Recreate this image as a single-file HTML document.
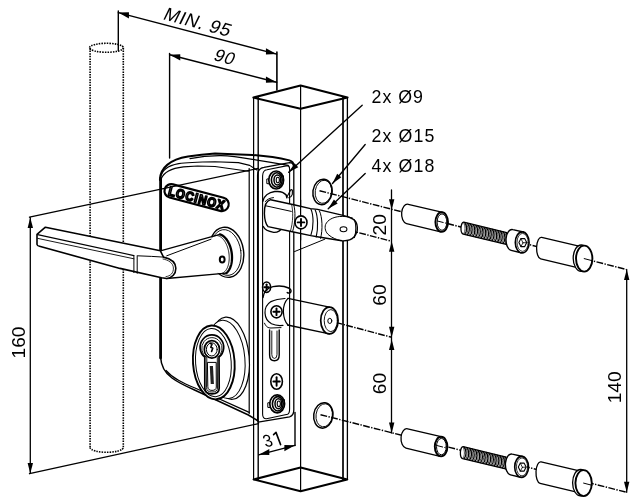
<!DOCTYPE html>
<html><head><meta charset="utf-8"><style>
html,body{margin:0;padding:0;background:#fff;width:634px;height:500px;overflow:hidden}
svg{display:block;filter:grayscale(1)}
text{font-family:"Liberation Sans",sans-serif;fill:#000;stroke:none}
</style></head><body>
<svg width="634" height="500" viewBox="0 0 634 500" stroke="#000" fill="none" stroke-linecap="round" stroke-linejoin="round">
<rect x="0" y="0" width="634" height="500" fill="#fff" stroke="none"/>
<line x1="90.10" y1="48.00" x2="90.10" y2="447.50" stroke-width="1.6" stroke-dasharray="1.5 1.1" stroke-linecap="butt"/>
<line x1="123.30" y1="48.00" x2="123.30" y2="447.50" stroke-width="1.6" stroke-dasharray="1.5 1.1" stroke-linecap="butt"/>
<ellipse cx="106.5" cy="47.8" rx="16.9" ry="4.5" stroke-width="1.6" fill="none" stroke-dasharray="1.5 1.1" stroke-linecap="butt"/>
<path d="M90.1,447.5 A16.6,4.8 0 0 0 123.3,447.5" stroke-width="1.6" fill="none" stroke-dasharray="1.5 1.1" stroke-linecap="butt"/>
<line x1="118.30" y1="11.00" x2="118.30" y2="50.50" stroke-width="1.4" />
<line x1="276.90" y1="52.00" x2="276.90" y2="90.00" stroke-width="1.6" />
<line x1="118.30" y1="12.60" x2="276.60" y2="54.10" stroke-width="1.4" />
<path d="M118.30,12.60 L128.94,12.29 L128.94,18.49 Z" fill="#000" stroke="none"/>
<path d="M276.60,54.10 L265.96,48.21 L265.96,54.41 Z" fill="#000" stroke="none"/>
<line x1="169.60" y1="53.50" x2="169.60" y2="158.00" stroke-width="1.4" />
<line x1="169.60" y1="54.70" x2="276.60" y2="82.30" stroke-width="1.4" />
<path d="M169.60,54.70 L180.25,54.35 L180.25,60.55 Z" fill="#000" stroke="none"/>
<path d="M276.60,82.30 L265.95,76.45 L265.95,82.65 Z" fill="#000" stroke="none"/>
<text x="0" y="0" font-size="18.5" text-anchor="start" transform="translate(162.0,19.0) rotate(15) skewX(-11)" letter-spacing="0.6">MIN. 95</text>
<text x="0" y="0" font-size="17.5" text-anchor="start" transform="translate(212.6,59.8) rotate(15) skewX(-11)" letter-spacing="0.6">90</text>
<path d="M253.4,97.6 L300.6,85.6 L347.5,97.6 L300.6,108.8 Z" stroke-width="2.1" fill="none" />
<line x1="300.60" y1="85.60" x2="300.60" y2="108.80" stroke-width="1.2" />
<line x1="253.60" y1="97.60" x2="253.60" y2="479.40" stroke-width="1.2" />
<line x1="258.20" y1="97.60" x2="258.20" y2="479.40" stroke-width="1.4" />
<line x1="343.00" y1="97.60" x2="343.00" y2="479.40" stroke-width="1.7" />
<line x1="347.40" y1="97.60" x2="347.40" y2="479.40" stroke-width="1.3" />
<line x1="300.60" y1="108.80" x2="300.60" y2="491.20" stroke-width="1.2" />
<path d="M253.6,479.4 L300.6,467.4 L347.2,479.4 L300.6,491.2 Z" stroke-width="2.1" fill="none" />
<ellipse cx="322.5" cy="191.9" rx="9.6" ry="12.8" stroke-width="1.5" fill="none" transform="rotate(8 322.5 191.9)" />
<ellipse cx="323.4" cy="191.8" rx="8.2" ry="11.6" stroke-width="0.9" fill="none" transform="rotate(8 323.4 191.8)" />
<ellipse cx="323.3" cy="415.4" rx="9.6" ry="12.8" stroke-width="1.5" fill="none" transform="rotate(8 323.3 415.4)" />
<ellipse cx="324.2" cy="415.3" rx="8.2" ry="11.6" stroke-width="0.9" fill="none" transform="rotate(8 324.2 415.3)" />
<line x1="319.50" y1="190.70" x2="626.70" y2="269.60" stroke-width="1.45" stroke-dasharray="6.8 1.4 1.4 1.4" stroke-linecap="butt"/>
<line x1="338.00" y1="227.30" x2="391.70" y2="241.30" stroke-width="1.45" stroke-dasharray="6.8 1.4 1.4 1.4" stroke-linecap="butt"/>
<line x1="325.00" y1="319.60" x2="391.70" y2="337.30" stroke-width="1.45" stroke-dasharray="6.8 1.4 1.4 1.4" stroke-linecap="butt"/>
<line x1="320.50" y1="414.70" x2="626.70" y2="492.30" stroke-width="1.45" stroke-dasharray="6.8 1.4 1.4 1.4" stroke-linecap="butt"/>
<line x1="391.50" y1="190.00" x2="391.50" y2="433.00" stroke-width="1.3" />
<path d="M391.70,209.80 L389.00,199.30 L394.40,199.30 Z" fill="#000" stroke="none"/>
<path d="M391.70,241.30 L394.40,251.80 L389.00,251.80 Z" fill="#000" stroke="none"/>
<path d="M391.70,337.30 L389.00,326.80 L394.40,326.80 Z" fill="#000" stroke="none"/>
<path d="M391.70,339.50 L394.40,350.00 L389.00,350.00 Z" fill="#000" stroke="none"/>
<path d="M391.70,433.00 L389.00,422.50 L394.40,422.50 Z" fill="#000" stroke="none"/>
<text x="0" y="0" font-size="19.2" text-anchor="middle" transform="translate(386.0,224.8) rotate(-90)" >20</text>
<text x="0" y="0" font-size="19.2" text-anchor="middle" transform="translate(386.0,295.0) rotate(-90)" >60</text>
<text x="0" y="0" font-size="19.2" text-anchor="middle" transform="translate(386.0,383.5) rotate(-90)" >60</text>
<line x1="626.70" y1="269.60" x2="626.70" y2="492.30" stroke-width="1.3" />
<path d="M626.70,269.60 L629.40,280.10 L624.00,280.10 Z" fill="#000" stroke="none"/>
<path d="M626.70,492.30 L624.00,481.80 L629.40,481.80 Z" fill="#000" stroke="none"/>
<text x="0" y="0" font-size="19.2" text-anchor="middle" transform="translate(621.2,387.3) rotate(-90)" >140</text>
<line x1="30.30" y1="217.60" x2="30.30" y2="473.40" stroke-width="1.3" />
<path d="M30.30,217.60 L33.00,228.10 L27.60,228.10 Z" fill="#000" stroke="none"/>
<path d="M30.30,473.40 L27.60,462.90 L33.00,462.90 Z" fill="#000" stroke="none"/>
<line x1="29.50" y1="217.20" x2="258.00" y2="168.50" stroke-width="1.35" />
<line x1="29.50" y1="473.70" x2="258.50" y2="423.60" stroke-width="1.35" />
<text x="0" y="0" font-size="19.2" text-anchor="middle" transform="translate(24.6,342.5) rotate(-90)" >160</text>
<line x1="295.00" y1="412.50" x2="295.00" y2="445.50" stroke-width="1.4" />
<line x1="258.70" y1="454.80" x2="295.00" y2="445.30" stroke-width="1.35" />
<path d="M258.70,454.80 L269.34,448.92 L269.34,455.12 Z" fill="#000" stroke="none"/>
<path d="M295.00,445.30 L284.36,444.98 L284.36,451.18 Z" fill="#000" stroke="none"/>
<text x="0" y="0" font-size="17.5" text-anchor="start" transform="translate(265.4,447.2) rotate(-10) skewX(10) scale(0.9,1)" >3</text>
<path d="M273.6,434.6 L276.0,432.4 L280.6,444.6" stroke-width="1.6" fill="none" />
<text x="371.5" y="102.8" font-size="17.8" text-anchor="start" letter-spacing="1.0">2x Ø9</text>
<text x="371.5" y="142" font-size="17.8" text-anchor="start" letter-spacing="1.1">2x Ø15</text>
<text x="371.5" y="171.5" font-size="17.8" text-anchor="start" letter-spacing="1.1">4x Ø18</text>
<line x1="362.20" y1="105.30" x2="288.70" y2="172.20" stroke-width="1.35" />
<path d="M288.70,172.20 L294.65,163.14 L298.28,167.13 Z" fill="#000" stroke="none"/>
<line x1="365.20" y1="144.50" x2="332.50" y2="183.50" stroke-width="1.35" />
<path d="M332.50,183.50 L337.18,173.72 L341.32,177.19 Z" fill="#000" stroke="none"/>
<line x1="365.20" y1="173.50" x2="328.20" y2="208.80" stroke-width="1.35" />
<path d="M328.20,208.80 L333.93,199.60 L337.66,203.51 Z" fill="#000" stroke="none"/>
<line x1="160.60" y1="178.00" x2="160.60" y2="358.00" stroke-width="2.8" />
<path d="M159.9,180 C160,168 170,159.5 188,156.6 C196,155.3 205,154.2 215,153.6 L252.6,155.0 C266,156 280,158.2 289.5,160.4 Q293.6,161.6 293.8,166" stroke-width="2.0" fill="none" />
<path d="M190,158.6 C200,156.6 212,155.6 221,155.7 C232,156 242,157.6 252.4,159.3 L270.9,162.4 L288.3,165.4" stroke-width="1.2" fill="none" />
<path d="M160.6,178 C161.5,170 168,165.5 178.7,163.6 C186,162.4 196,162 215,161.7 L238.4,162.6 L249.7,165.4 L256.8,170" stroke-width="1.1" fill="none" />
<path d="M161.2,179 C163.5,172.5 172,168.2 183.4,166.9 L197.6,166 L215,166.5 L248.6,171.2" stroke-width="1.1" fill="none" />
<line x1="249.20" y1="168.50" x2="249.20" y2="413.50" stroke-width="1.2" />
<path d="M160.6,357 C161,366 165,373 172,378 C178,382.5 186,386.2 194,389.8 L248.4,415 L257.4,420.5" stroke-width="1.5" fill="none" />
<path d="M166,370.5 C169,374 173.5,377.5 178.5,380.3 C184,383.5 189,385.6 195,388 L249.2,412.4" stroke-width="1.2" fill="none" />
<path d="M257.6,421 L257.6,175 Q258,168 264,167.4 L289.5,162.6 Q293.8,162.6 293.8,167 L293.8,410 Q293.8,415.5 289.6,416.8 L258.2,422.2" stroke-width="1.3" fill="none" />
<path d="M262.6,414 L262.6,176 Q262.8,170.2 267,169.8 L287.4,165.6 Q289.6,165.8 289.6,169 L289.6,409 Q289.6,413.2 287.6,414.3 L266.5,418.7 Q262.6,419 262.6,414 Z" stroke-width="1.1" fill="none" />
<g transform="translate(196.6,197.6) rotate(14.8)"><rect x="-33" y="-6.8" width="66" height="13.6" rx="6.8" ry="6.8" fill="none" stroke-width="2.2"/><text x="0.5" y="4.9" font-size="12.8" font-weight="bold" text-anchor="middle" style="fill:#fff;stroke:#000;stroke-width:1.7px" letter-spacing="1.0" transform="scale(0.9,1)">LOCINOX</text></g>
<ellipse cx="226.4" cy="252.3" rx="17.2" ry="25.2" stroke-width="1.4" fill="#fff" transform="rotate(-8 226.4 252.3)" />
<ellipse cx="225.9" cy="252.5" rx="15.0" ry="23.0" stroke-width="0.9" fill="none" transform="rotate(-8 225.9 252.5)" />
<path d="M160.4,250.8 L219.95,234.37 L220.15,234.43 L220.34,234.50 L220.54,234.57 L220.73,234.65 L220.93,234.73 L221.12,234.81 L221.32,234.90 L221.51,235.00 L221.71,235.10 L221.90,235.20 L222.09,235.31 L222.28,235.43 L222.48,235.55 L222.67,235.67 L222.86,235.80 L223.04,235.93 L223.23,236.07 L223.42,236.21 L223.61,236.36 L223.79,236.51 L223.98,236.67 L224.16,236.83 L224.34,236.99 L224.52,237.16 L224.70,237.33 L224.88,237.51 L225.05,237.69 L225.23,237.88 L225.40,238.07 L225.58,238.26 L225.75,238.46 L225.92,238.66 L226.09,238.86 L226.25,239.07 L226.42,239.29 L226.58,239.50 L226.74,239.73 L226.90,239.95 L227.06,240.18 L227.21,240.41 L227.37,240.64 L227.52,240.88 L227.67,241.12 L227.82,241.37 L227.96,241.62 L228.11,241.87 L228.25,242.12 L228.39,242.38 L228.52,242.64 L228.66,242.91 L228.79,243.17 L228.92,243.44 L229.05,243.71 L229.18,243.99 L229.30,244.27 L229.42,244.55 L229.54,244.83 L229.66,245.11 L229.77,245.40 L229.88,245.69 L229.99,245.98 L230.09,246.27 L230.20,246.57 L230.30,246.87 L230.40,247.16 L230.49,247.47 L230.58,247.77 L230.67,248.07 L230.76,248.38 L230.85,248.69 L230.93,249.00 L231.01,249.31 L231.08,249.62 L231.15,249.93 L231.22,250.24 L231.29,250.56 L231.36,250.88 L231.42,251.19 L231.48,251.51 L231.53,251.83 L231.58,252.15 L231.63,252.47 L231.68,252.79 L231.72,253.11 L231.76,253.43 L231.80,253.75 L231.84,254.07 L231.87,254.39 L231.90,254.72 L231.92,255.04 L231.94,255.36 L231.96,255.68 L231.98,256.00 L231.99,256.32 L232.00,256.64 L232.01,256.96 L232.01,257.28 L232.01,257.60 L232.01,257.92 L232.01,258.23 L232.00,258.55 L231.98,258.86 L231.97,259.18 L231.95,259.49 L231.93,259.80 L231.91,260.11 L231.88,260.42 L231.85,260.73 L231.82,261.03 L231.78,261.33 L231.74,261.64 L231.70,261.94 L231.65,262.24 L231.61,262.53 L231.55,262.83 L231.50,263.12 L231.44,263.41 L231.38,263.70 L231.32,263.99 L231.25,264.27 L231.19,264.55 L231.11,264.83 L231.04,265.11 L230.96,265.38 L230.88,265.65 L230.80,265.92 L230.71,266.18 L230.62,266.45 L230.53,266.71 L230.44,266.96 L230.34,267.22 L230.24,267.47 L230.14,267.71 L230.04,267.96 L229.93,268.20 L229.82,268.44 L229.71,268.67 L229.59,268.90 L229.47,269.13 L229.35,269.35 L229.23,269.57 L229.11,269.79 L228.98,270.00 L228.85,270.21 L228.72,270.41 L228.58,270.61 L228.45,270.81 L228.31,271.00 L228.17,271.19 L228.03,271.37 L227.88,271.55 L227.73,271.73 L227.58,271.90 L227.43,272.07 L227.28,272.23 L227.13,272.39 L226.97,272.54 L226.81,272.69 L226.65,272.84 L226.49,272.98 L226.32,273.11 L166.7,278.5 Z" fill="#fff" stroke="none"/>
<path d="M219.95,234.37 L220.15,234.43 L220.34,234.50 L220.54,234.57 L220.73,234.65 L220.93,234.73 L221.12,234.81 L221.32,234.90 L221.51,235.00 L221.71,235.10 L221.90,235.20 L222.09,235.31 L222.28,235.43 L222.48,235.55 L222.67,235.67 L222.86,235.80 L223.04,235.93 L223.23,236.07 L223.42,236.21 L223.61,236.36 L223.79,236.51 L223.98,236.67 L224.16,236.83 L224.34,236.99 L224.52,237.16 L224.70,237.33 L224.88,237.51 L225.05,237.69 L225.23,237.88 L225.40,238.07 L225.58,238.26 L225.75,238.46 L225.92,238.66 L226.09,238.86 L226.25,239.07 L226.42,239.29 L226.58,239.50 L226.74,239.73 L226.90,239.95 L227.06,240.18 L227.21,240.41 L227.37,240.64 L227.52,240.88 L227.67,241.12 L227.82,241.37 L227.96,241.62 L228.11,241.87 L228.25,242.12 L228.39,242.38 L228.52,242.64 L228.66,242.91 L228.79,243.17 L228.92,243.44 L229.05,243.71 L229.18,243.99 L229.30,244.27 L229.42,244.55 L229.54,244.83 L229.66,245.11 L229.77,245.40 L229.88,245.69 L229.99,245.98 L230.09,246.27 L230.20,246.57 L230.30,246.87 L230.40,247.16 L230.49,247.47 L230.58,247.77 L230.67,248.07 L230.76,248.38 L230.85,248.69 L230.93,249.00 L231.01,249.31 L231.08,249.62 L231.15,249.93 L231.22,250.24 L231.29,250.56 L231.36,250.88 L231.42,251.19 L231.48,251.51 L231.53,251.83 L231.58,252.15 L231.63,252.47 L231.68,252.79 L231.72,253.11 L231.76,253.43 L231.80,253.75 L231.84,254.07 L231.87,254.39 L231.90,254.72 L231.92,255.04 L231.94,255.36 L231.96,255.68 L231.98,256.00 L231.99,256.32 L232.00,256.64 L232.01,256.96 L232.01,257.28 L232.01,257.60 L232.01,257.92 L232.01,258.23 L232.00,258.55 L231.98,258.86 L231.97,259.18 L231.95,259.49 L231.93,259.80 L231.91,260.11 L231.88,260.42 L231.85,260.73 L231.82,261.03 L231.78,261.33 L231.74,261.64 L231.70,261.94 L231.65,262.24 L231.61,262.53 L231.55,262.83 L231.50,263.12 L231.44,263.41 L231.38,263.70 L231.32,263.99 L231.25,264.27 L231.19,264.55 L231.11,264.83 L231.04,265.11 L230.96,265.38 L230.88,265.65 L230.80,265.92 L230.71,266.18 L230.62,266.45 L230.53,266.71 L230.44,266.96 L230.34,267.22 L230.24,267.47 L230.14,267.71 L230.04,267.96 L229.93,268.20 L229.82,268.44 L229.71,268.67 L229.59,268.90 L229.47,269.13 L229.35,269.35 L229.23,269.57 L229.11,269.79 L228.98,270.00 L228.85,270.21 L228.72,270.41 L228.58,270.61 L228.45,270.81 L228.31,271.00 L228.17,271.19 L228.03,271.37 L227.88,271.55 L227.73,271.73 L227.58,271.90 L227.43,272.07 L227.28,272.23 L227.13,272.39 L226.97,272.54 L226.81,272.69 L226.65,272.84 L226.49,272.98 L226.32,273.11" stroke-width="2.3" fill="none" />
<path d="M212.02,237.25 L212.46,236.90 L212.90,236.59 L213.36,236.32 L213.83,236.08 L214.31,235.89 L214.79,235.74 L215.29,235.63 L215.79,235.56 L216.29,235.53 L216.80,235.54 L217.31,235.60 L217.83,235.69 L218.35,235.83 L218.86,236.01 L219.37,236.23 L219.89,236.49 L220.39,236.79 L220.90,237.13 L221.39,237.51 L221.88,237.92 L222.36,238.37 L222.84,238.86 L223.30,239.38 L223.75,239.93 L224.19,240.52 L224.62,241.14 L225.03,241.78 L225.42,242.46 L225.81,243.16 L226.17,243.88 L226.52,244.63 L226.85,245.41 L227.16,246.20 L227.45,247.01 L227.72,247.83 L227.97,248.67 L228.20,249.53 L228.40,250.39 L228.59,251.27 L228.75,252.15 L228.89,253.04 L229.00,253.93 L229.09,254.82 L229.16,255.71 L229.20,256.60 L229.22,257.48 L229.22,258.36 L229.19,259.23 L229.14,260.09 L229.06,260.94 L228.96,261.77 L228.83,262.59 L228.69,263.39 L228.52,264.17 L228.32,264.93 L228.11,265.67 L227.87,266.39 L227.62,267.07 L227.34,267.74 L227.04,268.37 L226.72,268.97 L226.38,269.54 L226.03,270.08 L225.66,270.58 L225.27,271.05 L224.87,271.48 L224.45,271.88 L224.02,272.24 L223.57,272.56 L223.12,272.84 L222.65,273.08 L222.18,273.28 L221.69,273.44 L221.20,273.56 L220.70,273.63 L220.19,273.67 L219.69,273.66 L219.17,273.62 L218.66,273.53 L218.14,273.39" stroke-width="0.9" fill="none" />
<path d="M160.4,250.8 L219.95,234.37" stroke-width="1.3" fill="none" />
<path d="M166.7,278.5 L226.32,273.11" stroke-width="1.3" fill="none" />
<path d="M166.7,255.8 L211,239.2" stroke-width="1.0" fill="none" />
<ellipse cx="222.2" cy="259.4" rx="2.4" ry="3.0" stroke-width="2.0" fill="none" />
<path d="M37.0,244.5 L37.0,234.4 L45.4,227.2 L160.4,250.8 L163.5,257.1 C170,258.5 175.5,262 175.8,268 C176,274 172,278 166.7,278.5 L161.6,277.8 L120,268.4 L39.5,246.3 Q37.2,245.8 37.0,244.5 Z" stroke-width="1.6" fill="#fff" />
<path d="M37.6,234.6 L133.9,255.6" stroke-width="1.1" fill="none" />
<path d="M37.8,238.4 L133.9,258.8" stroke-width="0.9" fill="none" />
<path d="M137.7,255.8 L151.5,256.4 L163.5,257.1" stroke-width="1.0" fill="none" />
<line x1="133.90" y1="255.80" x2="133.90" y2="272.60" stroke-width="1.0" />
<line x1="137.20" y1="255.80" x2="137.20" y2="273.30" stroke-width="1.0" />
<path d="M163,259 C168.5,260 173.2,263 173.4,268 C173.6,273 170.5,276.2 166,276.6" stroke-width="0.8" fill="none" />
<ellipse cx="229.2" cy="358.2" rx="20.0" ry="41.2" stroke-width="1.2" fill="#fff" transform="rotate(-5 229.2 358.2)" />
<ellipse cx="225.5" cy="359.4" rx="19.4" ry="39.2" stroke-width="1.0" fill="#fff" transform="rotate(-5 225.5 359.4)" />
<ellipse cx="213.8" cy="362.4" rx="20.8" ry="37.0" stroke-width="1.9" fill="#fff" transform="rotate(-4 213.8 362.4)" />
<ellipse cx="213.4" cy="362.6" rx="17.8" ry="34.2" stroke-width="1.0" fill="none" transform="rotate(-4 213.4 362.6)" />
<path d="M204.8,357.2 A11.8,12.4 0 1 1 219.0,357.2 L219.2,388 Q219.2,393.8 212.0,393.8 Q204.8,393.8 204.8,388 Z" stroke-width="1.7" fill="none" />
<path d="M206.5,357.6 A10.2,10.8 0 1 1 217.3,357.6 L217.5,388 Q217.5,392.0 212.0,392.0 Q206.5,392.0 206.5,388 Z" stroke-width="0.9" fill="none" />
<ellipse cx="211.9" cy="349.4" rx="7.6" ry="8.8" stroke-width="1.7" fill="none" />
<ellipse cx="211.8" cy="349.4" rx="5.4" ry="6.6" stroke-width="1.0" fill="none" />
<path d="M207.8,362.4 L216.2,362.4 L216.3,387 Q216.3,390.4 212.0,390.4 Q207.8,390.4 207.8,387 Z" stroke-width="1.0" fill="none" />
<rect x="210.2" y="366" width="3.2" height="18" fill="#222" stroke="none" transform="rotate(-3 211.7 374)"/>
<path d="M210.0,343.2 l2,1 l-1.2,3 l2,1 l-1.2,3.2" fill="none" stroke-width="1.6"/>
<ellipse cx="276.2" cy="180.0" rx="7.4" ry="9.0" stroke-width="1.7" fill="#fff" />
<ellipse cx="276.8" cy="180.0" rx="5.4" ry="7.2" stroke-width="1.6" fill="none" />
<ellipse cx="277.4" cy="180.0" rx="3.4" ry="5.0" stroke-width="1.5" fill="none" />
<ellipse cx="277.8" cy="180.0" rx="1.6" ry="2.8" stroke-width="1.1" fill="none" />
<path d="M268.8,178.8 L266.8,179.0 L266.8,183.6 L269.0,183.8" stroke-width="1.0" fill="none" />
<path d="M281.0,175.8 L283.4,175.8 L283.4,180.4" stroke-width="1.0" fill="none" />
<ellipse cx="277.2" cy="403.8" rx="7.4" ry="9.0" stroke-width="1.7" fill="#fff" />
<ellipse cx="277.8" cy="403.8" rx="5.4" ry="7.2" stroke-width="1.6" fill="none" />
<ellipse cx="278.4" cy="403.8" rx="3.4" ry="5.0" stroke-width="1.5" fill="none" />
<ellipse cx="278.8" cy="403.8" rx="1.6" ry="2.8" stroke-width="1.1" fill="none" />
<path d="M269.8,402.6 L267.8,402.8 L267.8,407.40000000000003 L270.0,407.6" stroke-width="1.0" fill="none" />
<path d="M282.0,399.6 L284.4,399.6 L284.4,404.2" stroke-width="1.0" fill="none" />
<ellipse cx="276.6" cy="381.5" rx="5.8" ry="7.8" stroke-width="1.6" fill="#fff" />
<line x1="273.41" y1="381.50" x2="279.79" y2="381.50" stroke-width="1.9" />
<line x1="276.60" y1="377.21" x2="276.60" y2="385.79" stroke-width="1.9" />
<path d="M262.7,201.2 C264,196.5 268.5,192.4 274.8,191.6 C279,191.0 283.5,191.8 286.2,195.0 L286.9,197.8" stroke-width="1.5" fill="none" />
<path d="M265.2,201.6 C267.5,199.0 270,198.0 273.5,197.6" stroke-width="1.0" fill="none" />
<path d="M287.0,196.8 L290.4,190.4 Q291.4,188.8 292.4,190.4 L292.3,194.4 Q291.6,197.0 288.8,197.8" stroke-width="1.1" fill="none" />
<path d="M263.3,226.6 C264.5,229.5 267,231.4 273.7,232.4 C277,232.6 280.3,231.2 282.6,227.4" stroke-width="1.4" fill="none" />
<path d="M270.6,199.7 C266,201 264.2,207 264.4,213.6 C264.6,220 266,224.5 268,226.6 L292.3,231.8 L310.8,235.6 L318.7,237.0 L341.9,240.8 C346,241 351,240.5 354,237 C356.5,234 357.6,230 357.3,227 C357,223.5 356,221 353,219.2 C350,217.5 346.5,216.2 343,215.4 L317.6,209.4 L310.5,208.6 L294.9,205 Z" stroke-width="1.4" fill="#fff" />
<path d="M293.8,204.9 C295.5,211 295.6,222 292.6,231.6" stroke-width="1.0" fill="none" />
<path d="M266.2,205.9 L291.3,211.4" stroke-width="1.0" fill="none" />
<path d="M291.6,204.5 C293.2,211 293.3,222 290.4,231.2" stroke-width="0.8" fill="none" />
<line x1="300.60" y1="200.00" x2="300.60" y2="240.00" stroke-width="1.2" />
<ellipse cx="301.0" cy="222.4" rx="6.0" ry="6.48" stroke-width="1.6" fill="#fff" />
<line x1="297.70" y1="222.40" x2="304.30" y2="222.40" stroke-width="1.9" />
<line x1="301.00" y1="218.84" x2="301.00" y2="225.96" stroke-width="1.9" />
<path d="M311.0,209.3 C313.5,215 314,227 310.8,235.5" stroke-width="1.1" fill="none" />
<path d="M315.2,210.0 C318,216 318.3,229 316.2,237.0" stroke-width="1.1" fill="none" />
<path d="M319.4,210.8 C322.5,217 322.8,230 320.6,238.4" stroke-width="1.0" fill="none" />
<path d="M352.5,218.0 C348,216.6 344,216.2 339.7,216.5 C333,217 327.5,220 325.6,224.5 C324.4,228 325.5,232.5 329,235.2 C332.5,238 336.5,239.6 340.5,240.6" stroke-width="1.0" fill="none" />
<path d="M354.4,219.8 C356.2,224 356.4,232 354.4,237.6" stroke-width="1.1" fill="none" />
<ellipse cx="343.5" cy="229.2" rx="3.4" ry="2.5" stroke-width="1.1" fill="none" />
<line x1="294.50" y1="251.60" x2="324.80" y2="239.20" stroke-width="1.0" />
<ellipse cx="266.6" cy="287.2" rx="4.0" ry="5.2" stroke-width="1.6" fill="#fff" />
<line x1="264.40" y1="287.20" x2="268.80" y2="287.20" stroke-width="1.9" />
<line x1="266.60" y1="284.34" x2="266.60" y2="290.06" stroke-width="1.9" />
<path d="M263.0,297.5 C264,291 268,287.6 273,286.6 C278,285.6 284.5,286.0 288.6,288.0 C290.6,289.0 291.6,290.6 290.8,292.0 C290,293.2 288.2,293.4 287.2,292.4" stroke-width="1.4" fill="none" />
<path d="M285,298.5 C280,298.8 275.5,299.5 271,301.6 C266.5,304.5 264.8,309 265,313 C265.2,317.5 267.5,321.5 271.5,323.8 C275,325.5 279,325.8 283,325.4" stroke-width="1.2" fill="none" />
<ellipse cx="276.5" cy="311.8" rx="5.6" ry="6.048" stroke-width="1.6" fill="#fff" />
<line x1="273.42" y1="311.80" x2="279.58" y2="311.80" stroke-width="1.9" />
<line x1="276.50" y1="308.47" x2="276.50" y2="315.13" stroke-width="1.9" />
<path d="M288,298.4 C284.4,302 283.2,307 283.4,312 C283.6,317 285,322 288,325" stroke-width="1.2" fill="none" />
<path d="M288,298.4 L329.4,307.1" stroke-width="1.3" fill="none" />
<path d="M287.5,325 L329.4,333.9" stroke-width="1.3" fill="none" />
<ellipse cx="329.4" cy="320.5" rx="8.7" ry="13.4" stroke-width="1.7" fill="#fff" />
<ellipse cx="330.8" cy="320.6" rx="6.6" ry="11.0" stroke-width="0.9" fill="none" />
<ellipse cx="329.8" cy="320.9" rx="2.0" ry="2.6" stroke-width="1.0" fill="none" />
<path d="M264.5,323.2 C266,326.8 268,328 271,328 L281,327.6" stroke-width="1.0" fill="none" />
<path d="M269.6,330 L269.6,355 Q269.6,360.8 274.4,360.8 Q279.2,360.8 279.2,355 L279.2,330" stroke-width="1.4" fill="none" />
<path d="M271.8,331 L271.8,354.5 Q271.8,358.4 274.4,358.4 Q277,358.4 277,354.5 L277,331" stroke-width="0.9" fill="none" />
<g><path d="M442.73,212.43 L408.27,204.31 A5.8,9.8 0 0 0 406.53,223.69 L440.67,231.77 A6.3,9.8 0 0 0 442.73,212.43 Z" fill="#fff" stroke="none"/><path d="M442.73,212.43 L408.27,204.31 A5.8,9.8 0 0 0 406.53,223.69 L440.67,231.77" stroke-width="1.3" fill="none" /><ellipse cx="441.7" cy="222.1" rx="6.3" ry="9.8" stroke-width="1.9" fill="none" /><ellipse cx="442.0" cy="222.1" rx="4.9" ry="8.2" stroke-width="1.0" fill="none" /><line x1="437.00" y1="220.90" x2="446.80" y2="223.40" stroke-width="1.0" stroke-dasharray="6.8 1.4 1.4 1.4" stroke-linecap="butt"/><path d="M506.77,232.53 L463.79,222.24 A2.6,6.0 0 0 0 463.21,234.16 L506.23,244.47 A2.5,6.0 0 0 0 506.77,232.53 Z" fill="#fff" stroke="none"/><path d="M506.77,232.53 L463.79,222.24 A2.6,6.0 0 0 0 463.21,234.16 L506.23,244.47" stroke-width="1.3" fill="none" /><path d="M464.80,222.72 C467.20,225.42 467.20,231.42 464.80,234.12" stroke-width="1.25" fill="none" /><path d="M463.70,223.02 C465.50,225.42 465.50,231.42 463.70,233.82" stroke-width="0.7" fill="none" /><path d="M467.54,223.37 C469.94,226.07 469.94,232.07 467.54,234.77" stroke-width="1.25" fill="none" /><path d="M466.44,223.67 C468.24,226.07 468.24,232.07 466.44,234.47" stroke-width="0.7" fill="none" /><path d="M470.28,224.03 C472.68,226.73 472.68,232.73 470.28,235.43" stroke-width="1.25" fill="none" /><path d="M469.18,224.33 C470.98,226.73 470.98,232.73 469.18,235.13" stroke-width="0.7" fill="none" /><path d="M473.02,224.69 C475.42,227.39 475.42,233.39 473.02,236.09" stroke-width="1.25" fill="none" /><path d="M471.92,224.99 C473.72,227.39 473.72,233.39 471.92,235.79" stroke-width="0.7" fill="none" /><path d="M475.76,225.35 C478.16,228.05 478.16,234.05 475.76,236.75" stroke-width="1.25" fill="none" /><path d="M474.66,225.65 C476.46,228.05 476.46,234.05 474.66,236.45" stroke-width="0.7" fill="none" /><path d="M478.50,226.00 C480.90,228.70 480.90,234.70 478.50,237.40" stroke-width="1.25" fill="none" /><path d="M477.40,226.30 C479.20,228.70 479.20,234.70 477.40,237.10" stroke-width="0.7" fill="none" /><path d="M481.24,226.66 C483.64,229.36 483.64,235.36 481.24,238.06" stroke-width="1.25" fill="none" /><path d="M480.14,226.96 C481.94,229.36 481.94,235.36 480.14,237.76" stroke-width="0.7" fill="none" /><path d="M483.98,227.32 C486.38,230.02 486.38,236.02 483.98,238.72" stroke-width="1.25" fill="none" /><path d="M482.88,227.62 C484.68,230.02 484.68,236.02 482.88,238.42" stroke-width="0.7" fill="none" /><path d="M486.72,227.98 C489.12,230.68 489.12,236.68 486.72,239.38" stroke-width="1.25" fill="none" /><path d="M485.62,228.28 C487.42,230.68 487.42,236.68 485.62,239.08" stroke-width="0.7" fill="none" /><path d="M489.46,228.63 C491.86,231.33 491.86,237.33 489.46,240.03" stroke-width="1.25" fill="none" /><path d="M488.36,228.93 C490.16,231.33 490.16,237.33 488.36,239.73" stroke-width="0.7" fill="none" /><path d="M492.20,229.29 C494.60,231.99 494.60,237.99 492.20,240.69" stroke-width="1.25" fill="none" /><path d="M491.10,229.59 C492.90,231.99 492.90,237.99 491.10,240.39" stroke-width="0.7" fill="none" /><path d="M494.94,229.95 C497.34,232.65 497.34,238.65 494.94,241.35" stroke-width="1.25" fill="none" /><path d="M493.84,230.25 C495.64,232.65 495.64,238.65 493.84,241.05" stroke-width="0.7" fill="none" /><path d="M497.68,230.61 C500.08,233.31 500.08,239.31 497.68,242.01" stroke-width="1.25" fill="none" /><path d="M496.58,230.91 C498.38,233.31 498.38,239.31 496.58,241.71" stroke-width="0.7" fill="none" /><path d="M500.42,231.26 C502.82,233.96 502.82,239.96 500.42,242.66" stroke-width="1.25" fill="none" /><path d="M499.32,231.56 C501.12,233.96 501.12,239.96 499.32,242.36" stroke-width="0.7" fill="none" /><path d="M503.16,231.92 C505.56,234.62 505.56,240.62 503.16,243.32" stroke-width="1.25" fill="none" /><path d="M502.06,232.22 C503.86,234.62 503.86,240.62 502.06,243.02" stroke-width="0.7" fill="none" /><path d="M505.90,232.58 C508.30,235.28 508.30,241.28 505.90,243.98" stroke-width="1.25" fill="none" /><path d="M504.80,232.88 C506.60,235.28 506.60,241.28 504.80,243.68" stroke-width="0.7" fill="none" /><path d="M523.35,232.05 L512.87,229.61 A6.0,10.5 0 0 0 511.13,250.39 L521.05,252.75 A6.9,10.5 0 0 0 523.35,232.05 Z" fill="#fff" stroke="none"/><path d="M523.35,232.05 L512.87,229.61 A6.0,10.5 0 0 0 511.13,250.39 L521.05,252.75" stroke-width="1.4" fill="none" /><ellipse cx="522.2" cy="242.4" rx="6.9" ry="10.5" stroke-width="1.6" fill="#fff" /><ellipse cx="522.6" cy="242.4" rx="5.6" ry="9.0" stroke-width="0.8" fill="none" /><polygon points="526.70,242.60 524.75,246.58 520.85,246.58 518.90,242.60 520.85,238.62 524.75,238.62" fill="none" stroke-width="1.1"/><line x1="520.90" y1="238.60" x2="523.00" y2="242.80" stroke-width="0.8" /><line x1="523.00" y1="242.80" x2="526.70" y2="242.60" stroke-width="0.8" /><line x1="523.00" y1="242.80" x2="520.90" y2="246.60" stroke-width="0.8" /><path d="M582.12,246.97 L541.70,237.46 A4.6,10.8 0 0 0 540.70,258.94 L579.48,268.23 A7.5,10.8 0 0 0 582.12,246.97 Z" fill="#fff" stroke="none"/><path d="M582.12,246.97 L541.70,237.46 A4.6,10.8 0 0 0 540.70,258.94 L579.48,268.23" stroke-width="1.3" fill="none" /><ellipse cx="581.2" cy="258.2" rx="8.0" ry="13.2" stroke-width="1.3" fill="#fff" /><ellipse cx="584.2" cy="258.6" rx="8.2" ry="13.0" stroke-width="1.9" fill="#fff" /><line x1="584.20" y1="258.60" x2="592.60" y2="260.80" stroke-width="1.0" /></g>
<g transform="translate(-0.6,224.5)"><path d="M442.73,212.43 L408.27,204.31 A5.8,9.8 0 0 0 406.53,223.69 L440.67,231.77 A6.3,9.8 0 0 0 442.73,212.43 Z" fill="#fff" stroke="none"/><path d="M442.73,212.43 L408.27,204.31 A5.8,9.8 0 0 0 406.53,223.69 L440.67,231.77" stroke-width="1.3" fill="none" /><ellipse cx="441.7" cy="222.1" rx="6.3" ry="9.8" stroke-width="1.9" fill="none" /><ellipse cx="442.0" cy="222.1" rx="4.9" ry="8.2" stroke-width="1.0" fill="none" /><line x1="437.00" y1="220.90" x2="446.80" y2="223.40" stroke-width="1.0" stroke-dasharray="6.8 1.4 1.4 1.4" stroke-linecap="butt"/><path d="M506.77,232.53 L463.79,222.24 A2.6,6.0 0 0 0 463.21,234.16 L506.23,244.47 A2.5,6.0 0 0 0 506.77,232.53 Z" fill="#fff" stroke="none"/><path d="M506.77,232.53 L463.79,222.24 A2.6,6.0 0 0 0 463.21,234.16 L506.23,244.47" stroke-width="1.3" fill="none" /><path d="M464.80,222.72 C467.20,225.42 467.20,231.42 464.80,234.12" stroke-width="1.25" fill="none" /><path d="M463.70,223.02 C465.50,225.42 465.50,231.42 463.70,233.82" stroke-width="0.7" fill="none" /><path d="M467.54,223.37 C469.94,226.07 469.94,232.07 467.54,234.77" stroke-width="1.25" fill="none" /><path d="M466.44,223.67 C468.24,226.07 468.24,232.07 466.44,234.47" stroke-width="0.7" fill="none" /><path d="M470.28,224.03 C472.68,226.73 472.68,232.73 470.28,235.43" stroke-width="1.25" fill="none" /><path d="M469.18,224.33 C470.98,226.73 470.98,232.73 469.18,235.13" stroke-width="0.7" fill="none" /><path d="M473.02,224.69 C475.42,227.39 475.42,233.39 473.02,236.09" stroke-width="1.25" fill="none" /><path d="M471.92,224.99 C473.72,227.39 473.72,233.39 471.92,235.79" stroke-width="0.7" fill="none" /><path d="M475.76,225.35 C478.16,228.05 478.16,234.05 475.76,236.75" stroke-width="1.25" fill="none" /><path d="M474.66,225.65 C476.46,228.05 476.46,234.05 474.66,236.45" stroke-width="0.7" fill="none" /><path d="M478.50,226.00 C480.90,228.70 480.90,234.70 478.50,237.40" stroke-width="1.25" fill="none" /><path d="M477.40,226.30 C479.20,228.70 479.20,234.70 477.40,237.10" stroke-width="0.7" fill="none" /><path d="M481.24,226.66 C483.64,229.36 483.64,235.36 481.24,238.06" stroke-width="1.25" fill="none" /><path d="M480.14,226.96 C481.94,229.36 481.94,235.36 480.14,237.76" stroke-width="0.7" fill="none" /><path d="M483.98,227.32 C486.38,230.02 486.38,236.02 483.98,238.72" stroke-width="1.25" fill="none" /><path d="M482.88,227.62 C484.68,230.02 484.68,236.02 482.88,238.42" stroke-width="0.7" fill="none" /><path d="M486.72,227.98 C489.12,230.68 489.12,236.68 486.72,239.38" stroke-width="1.25" fill="none" /><path d="M485.62,228.28 C487.42,230.68 487.42,236.68 485.62,239.08" stroke-width="0.7" fill="none" /><path d="M489.46,228.63 C491.86,231.33 491.86,237.33 489.46,240.03" stroke-width="1.25" fill="none" /><path d="M488.36,228.93 C490.16,231.33 490.16,237.33 488.36,239.73" stroke-width="0.7" fill="none" /><path d="M492.20,229.29 C494.60,231.99 494.60,237.99 492.20,240.69" stroke-width="1.25" fill="none" /><path d="M491.10,229.59 C492.90,231.99 492.90,237.99 491.10,240.39" stroke-width="0.7" fill="none" /><path d="M494.94,229.95 C497.34,232.65 497.34,238.65 494.94,241.35" stroke-width="1.25" fill="none" /><path d="M493.84,230.25 C495.64,232.65 495.64,238.65 493.84,241.05" stroke-width="0.7" fill="none" /><path d="M497.68,230.61 C500.08,233.31 500.08,239.31 497.68,242.01" stroke-width="1.25" fill="none" /><path d="M496.58,230.91 C498.38,233.31 498.38,239.31 496.58,241.71" stroke-width="0.7" fill="none" /><path d="M500.42,231.26 C502.82,233.96 502.82,239.96 500.42,242.66" stroke-width="1.25" fill="none" /><path d="M499.32,231.56 C501.12,233.96 501.12,239.96 499.32,242.36" stroke-width="0.7" fill="none" /><path d="M503.16,231.92 C505.56,234.62 505.56,240.62 503.16,243.32" stroke-width="1.25" fill="none" /><path d="M502.06,232.22 C503.86,234.62 503.86,240.62 502.06,243.02" stroke-width="0.7" fill="none" /><path d="M505.90,232.58 C508.30,235.28 508.30,241.28 505.90,243.98" stroke-width="1.25" fill="none" /><path d="M504.80,232.88 C506.60,235.28 506.60,241.28 504.80,243.68" stroke-width="0.7" fill="none" /><path d="M523.35,232.05 L512.87,229.61 A6.0,10.5 0 0 0 511.13,250.39 L521.05,252.75 A6.9,10.5 0 0 0 523.35,232.05 Z" fill="#fff" stroke="none"/><path d="M523.35,232.05 L512.87,229.61 A6.0,10.5 0 0 0 511.13,250.39 L521.05,252.75" stroke-width="1.4" fill="none" /><ellipse cx="522.2" cy="242.4" rx="6.9" ry="10.5" stroke-width="1.6" fill="#fff" /><ellipse cx="522.6" cy="242.4" rx="5.6" ry="9.0" stroke-width="0.8" fill="none" /><polygon points="526.70,242.60 524.75,246.58 520.85,246.58 518.90,242.60 520.85,238.62 524.75,238.62" fill="none" stroke-width="1.1"/><line x1="520.90" y1="238.60" x2="523.00" y2="242.80" stroke-width="0.8" /><line x1="523.00" y1="242.80" x2="526.70" y2="242.60" stroke-width="0.8" /><line x1="523.00" y1="242.80" x2="520.90" y2="246.60" stroke-width="0.8" /><path d="M582.12,246.97 L541.70,237.46 A4.6,10.8 0 0 0 540.70,258.94 L579.48,268.23 A7.5,10.8 0 0 0 582.12,246.97 Z" fill="#fff" stroke="none"/><path d="M582.12,246.97 L541.70,237.46 A4.6,10.8 0 0 0 540.70,258.94 L579.48,268.23" stroke-width="1.3" fill="none" /><ellipse cx="581.2" cy="258.2" rx="8.0" ry="13.2" stroke-width="1.3" fill="#fff" /><ellipse cx="584.2" cy="258.6" rx="8.2" ry="13.0" stroke-width="1.9" fill="#fff" /><line x1="584.20" y1="258.60" x2="592.60" y2="260.80" stroke-width="1.0" /></g>
</svg>
</body></html>
